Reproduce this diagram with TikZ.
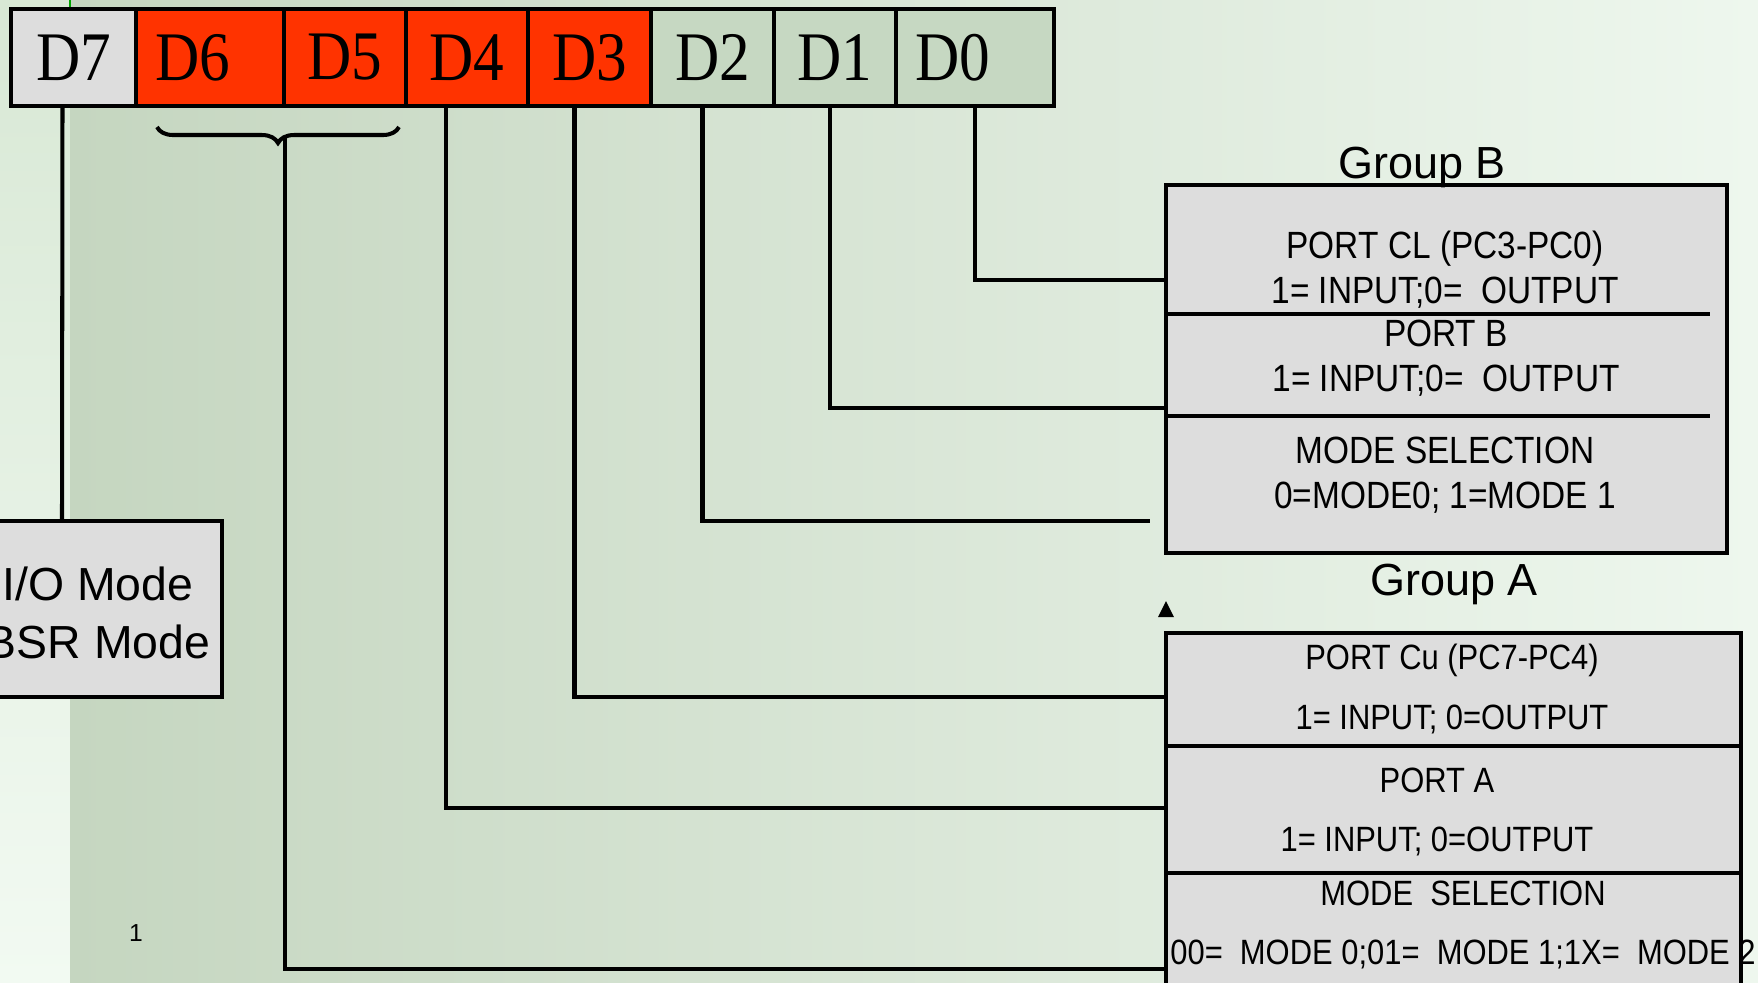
\documentclass[tikz,border=0pt]{standalone}
\usepackage{fontspec}
\setmainfont{Liberation Serif}
\setsansfont{Liberation Sans}
\newfontfamily\regfont[FakeStretch=0.88]{Liberation Serif}
\newfontfamily\portfont[FakeStretch=0.88]{Liberation Sans}
\usetikzlibrary{positioning,calc,decorations.pathreplacing}

\definecolor{bitred}{HTML}{FF3300}
\definecolor{bitgreen}{HTML}{C6D8C2}
\definecolor{boxgray}{HTML}{DDDDDD}
\definecolor{bgdark}{HTML}{C5D6C0}
\definecolor{bglight}{HTML}{EEF7EE}
\definecolor{bgstrip}{HTML}{D8E8D5}
\definecolor{bgwhite}{HTML}{F2FAF2}

\tikzset{
  bit/.style={draw, line width=1.1pt, minimum height=9.7mm, inner xsep=1.9mm, outer sep=0pt,
    anchor=north west, font=\regfont\fontsize{19.8}{22}\selectfont},
  wire/.style={line width=1.15pt},
  grp/.style={draw, line width=1.4pt, fill=boxgray, anchor=north west, outer sep=0pt},
  sep/.style={line width=1.3pt},
  portB/.style={align=center, font=\portfont\fontsize{10.8}{12.8}\selectfont},
  portA/.style={align=center, font=\portfont\fontsize{10}{16.8}\selectfont},
  grpname/.style={font=\sffamily\fontsize{12.8}{14}\selectfont},
}

\begin{document}
\begin{tikzpicture}[x=0.1mm, y=-0.1mm]
\clip (0,0) rectangle (1758,982);
\shade[top color=bgstrip, bottom color=bgwhite] (0,0) rectangle (70,982);
\shade[left color=bgdark, right color=bglight] (70,0) rectangle (1758,982);
\draw[green!65!black, line width=0.8pt] (70,0) -- (70,9);

% control word
\foreach \n/\x/\tw/\c/\a in {7/11/8.7/boxgray/center, 6/136/11.0/bitred/left, 5/284/8.4/bitred/center,
    4/406/8.4/bitred/center, 3/528/8.5/bitred/center, 2/651/8.5/bitgreen/center,
    1/774/8.4/bitgreen/center, 0/896/12.0/bitgreen/left}
  \node[bit, fill=\c, text width=\tw mm, align=\a] (d\n) at (\x,9) {D\n};
\draw[line width=1.4pt] (d7.north west) rectangle (d0.south east);

% boxes
\node[grp, minimum width=37.2mm, minimum height=17.6mm, anchor=north east] (io) at (222,521) {};
\node[align=center, font=\sffamily\fontsize{13.2}{16.5}\selectfont] (iotxt) at (98,613) {I/O Mode\\BSR Mode};

\node[grp, minimum width=56.1mm, minimum height=36.8mm] (gB) at (1166,185) {};
\draw[sep] ($(gB.north west)+(0,129)$) -- ++(544,0);
\draw[sep] ($(gB.north west)+(0,231)$) -- ++(544,0);
\node[grpname] (lblB) at (1422,167) {Group B};
\node[portB] (pcl) at (1445,270) {PORT CL (PC3-PC0)\\1= INPUT;0=\ \ OUTPUT};
\node[portB] (pb) at (1446,358) {PORT B\\1= INPUT;0=\ \ OUTPUT};
\node[portB] (mb) at (1445,475) {MODE SELECTION\\0=MODE0; 1=MODE 1};

\node[grp, minimum width=57.5mm, minimum height=40mm] (gA) at (1166,633) {};
\draw[sep] ($(gA.north west)+(0,113)$) -- ++(575,0);
\draw[sep] ($(gA.north west)+(0,240)$) -- ++(575,0);
\node[grpname] (lblA) at (1454,584) {Group A};
\node[portA] (pcu) at (1452,689) {PORT Cu (PC7-PC4)\\1= INPUT; 0=OUTPUT};
\node[portA] (pa) at (1437,812) {PORT A\\1= INPUT; 0=OUTPUT};
\node[portA] (ma) at (1463,925) {MODE\ \ SELECTION\\00=\ \ MODE 0;01=\ \ MODE 1;1X=\ \ MODE 2};

\fill (1158,617) -- (1174,617) -- (1166,601) -- cycle;
\node[font=\sffamily\fontsize{7}{8}\selectfont] (pg) at (136,933) {1};

% connectors
\coordinate (inD7) at (62,521);
\coordinate (inD0) at (1166,280);
\coordinate (inD1) at (1166,408);
\coordinate (inD2) at (1150,521);
\coordinate (inD3) at (1166,697);
\coordinate (inD4) at (1166,808);
\coordinate (inD65) at (1166,969);
\coordinate (b65) at (285,138);
\draw[wire] ($(d7.south)+(-11,0)$) -- (inD7);
\draw[wire] (d0.south) |- (inD0);
\draw[wire] ($(d1.south)+(-5,0)$) |- (inD1);
\draw[wire] ($(d2.south)+(-10,0)$) |- (inD2);
\draw[wire] ($(d3.south)+(-15,0)$) |- (inD3);
\draw[wire] ($(d4.south)+(-21,0)$) |- (inD4);
\draw[wire, decorate, decoration={brace, mirror, amplitude=1.6mm, aspect=0.5}] (157,127) -- (399,127);
\draw[wire] (b65) |- (inD65);
\end{tikzpicture}
\end{document}
